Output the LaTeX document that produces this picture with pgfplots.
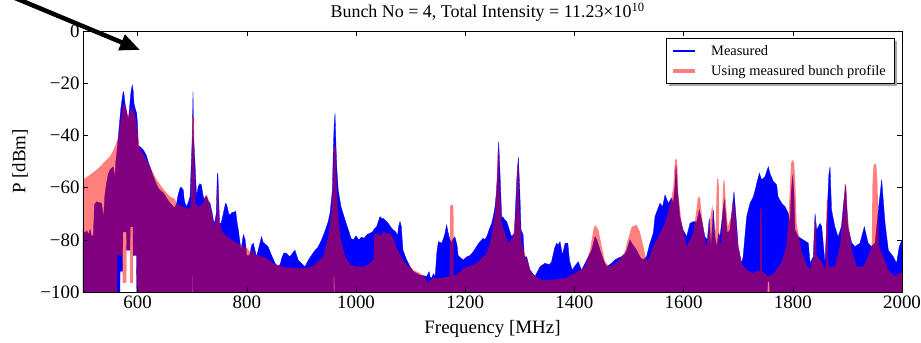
\documentclass[border=0pt]{standalone}
\usepackage{fontspec}
\setmainfont{Liberation Serif}
\usepackage{pgfplots}
\pgfplotsset{compat=1.18}
\usetikzlibrary{arrows.meta}

\begin{document}
\begin{tikzpicture}
\begin{axis}[
  scale only axis, width=819bp, height=261bp,
  xmin=500, xmax=2000, ymin=-100, ymax=0,
  xtick={600,800,1000,1200,1400,1600,1800,2000},
  xticklabels={600,800,1000,1200,1400,1600,1800,2000},
  ytick={-100,-80,-60,-40,-20,0},
  yticklabels={−100,−80,−60,−40,−20,0},
  tick align=inside, tick pos=both,
  major tick length=5bp,
  tick style={black, line width=0.6bp},
  ticklabel style={font=\fontsize{19}{21}\selectfont},
  /pgf/number format/assume math mode=true,
  axis line style={line width=0.8bp},
  axis on top,
  title={Bunch No = 4, Total Intensity = 11.23×10\textsuperscript{10}},
  title style={font=\fontsize{18}{20}\selectfont, at={(axis description cs:0.494,1.027)}, anchor=base},
  xlabel={Frequency [MHz]},
  ylabel={P [dBm]},
  label style={font=\fontsize{19}{21}\selectfont},
  xlabel style={at={(axis description cs:0.5,-0.142)}, anchor=center},
  ylabel style={at={(axis description cs:-0.0769,0.5)}, anchor=center},
]
% Measured (blue)
\addplot[fill=blue, draw=blue, line width=0.3bp] coordinates {
(500,-76) (503,-77.5) (507,-76.5) (510,-78) (513,-76) (516,-79) (519,-78) (521,-66.5) (525,-65.4) (530,-65.8)
(534,-66) (536,-69) (537.5,-72) (540,-63) (543,-58.4) (546,-55) (549.5,-53.2) (553,-52.5) (555.5,-52) (557,-54)
(558.6,-56) (560,-50) (561.7,-47) (564.7,-40.5) (567,-35) (569,-30.3) (571,-27) (573,-24) (573.9,-23.2) (575,-24)
(576.9,-27.7) (580,-31) (583,-34) (585,-30) (586,-27.7) (588,-23) (590.3,-20.7) (592,-23) (593.4,-27.7) (596,-30)
(598.3,-31.5) (600,-36) (601.3,-44.3) (604.4,-44.3) (607,-44.8) (610.5,-45.6) (613,-46.5) (616.6,-48) (620,-50.5)
(622.7,-52) (626,-54) (628.8,-55.8) (632,-57.5) (634.9,-59) (638,-60.2) (641,-61) (644,-61.5) (647,-62) (650,-62.8)
(653,-64) (656,-65) (660,-66) (665.4,-67.3) (668,-67.7) (671.5,-66) (674,-63) (677.6,-60.3) (680,-59.8) (683.8,-61)
(685,-64) (686.8,-66) (689.9,-67.3) (693,-65.5) (696,-63.5) (698.5,-50) (700.2,-40) (701.5,-23.2) (702.5,-40) (705,-50)
(708,-63.5) (711,-59.6) (714,-58.5) (717,-59) (719,-62) (721.6,-64.7) (724,-63.5) (726.5,-63.5) (729,-65) (732.6,-66)
(736,-69) (738.7,-72.4) (741,-73.7) (744,-70) (746,-55) (747,-54.5) (748,-60) (750,-73.5) (753,-73.7) (757,-69.9)
(761,-66) (763,-66.5) (767,-70) (769.5,-70.5) (773,-69.5) (776,-69.5) (779.7,-69) (782,-73) (784.5,-76.2) (789.5,-84)
(793.7,-78) (797,-80) (800,-86) (805,-86) (809,-82) (812,-81.3) (815,-84) (818,-86.5) (822,-83) (827,-78.8)
(830,-81) (833,-81.5) (839,-82.6) (845,-85.8) (851.7,-89) (856,-90) (861,-89.5) (864,-87) (868,-85) (873,-85.2)
(879,-86.5) (884,-85) (888.3,-84) (894,-87.7) (900,-89) (906.6,-90.3) (913,-87.7) (919,-85.8) (925,-84) (930,-83)
(937,-80) (944,-76.2) (949,-73) (952.4,-69.9) (956.7,-61) (958.5,-45) (960,-36) (961.6,-31.5) (963.5,-45) (965,-53)
(967.5,-61) (972.5,-67.3) (980,-72.4) (986,-76.2) (991,-79.5) (995,-80) (1000,-78.5) (1005,-80) (1010,-79) (1015,-79.4)
(1020,-78) (1025.6,-77.5) (1030,-77) (1033,-76) (1037.8,-75) (1041,-73) (1044,-71.1) (1048,-72) (1050,-71.8) (1056,-73)
(1060,-74) (1065,-75.5) (1068,-76.2) (1073,-77) (1076,-78.5) (1078,-75) (1080.6,-73) (1083,-75) (1086,-84) (1092.8,-87.7)
(1099,-90.3) (1105,-92.2) (1117,-93.5) (1129.4,-94) (1132,-93) (1134,-92.2) (1136,-94.5) (1138,-94.7) (1142,-93) (1145,-94)
(1148,-85) (1150.8,-80.7) (1157,-81.3) (1161,-79) (1163,-77.5) (1166,-74.3) (1169,-77.5) (1172,-80) (1175,-81) (1177,-80)
(1181,-78.8) (1185,-82) (1187,-86) (1192,-87) (1196.6,-87.7) (1203,-86.5) (1209,-86) (1215,-84.5) (1221,-82.5) (1227,-80.7)
(1233,-79.4) (1236,-80) (1240,-78.5) (1244,-76) (1248.5,-73.7) (1252,-70.5) (1254.6,-67.3) (1257,-62) (1259.5,-53.2) (1261.3,-42.4)
(1263.5,-53) (1266.8,-71.1) (1270,-71.5) (1273,-72.5) (1276,-73) (1279,-75) (1285,-78.8) (1290,-77.5) (1292,-68) (1295,-55)
(1297.4,-48.4) (1299.8,-60) (1302.3,-76.2) (1306,-78) (1308.3,-86.5) (1312.6,-86.5) (1318.7,-91.6) (1328,-94) (1337,-90.3) (1346,-89)
(1354,-89.5) (1358,-88.5) (1364,-83) (1367.6,-81.3) (1370,-82) (1373.7,-80.7) (1378,-85.8) (1383,-81.3) (1388,-81.3) (1391,-88)
(1396,-91.6) (1401,-90) (1407.2,-88.4) (1413,-91.6) (1419.5,-89) (1425.5,-86.5) (1431.6,-84) (1437.8,-78.8) (1441,-80) (1447,-84)
(1453,-87.7) (1459,-90.3) (1468,-89) (1474,-87.7) (1480,-87) (1486,-86.5) (1492,-85.5) (1496,-84) (1501.8,-80) (1505,-81.3)
(1514,-84) (1520,-86.5) (1526,-87.7) (1532,-86.5) (1538.4,-81.3) (1544.5,-77.5) (1547.6,-71.1) (1552,-68.6) (1556.8,-66) (1561.6,-67.3)
(1565.9,-62.8) (1572,-66) (1578,-64) (1581,-66) (1584,-60) (1586,-51.3) (1588.5,-60) (1593,-71.1) (1599,-76.2) (1605.6,-78.8)
(1611.7,-73.7) (1618,-73) (1624,-73) (1628.8,-68.6) (1633,-72.4) (1639,-78.8) (1643.5,-80) (1647,-71.8) (1650,-82.6) (1654.5,-68.6)
(1657.5,-79) (1661,-82.6) (1664,-77.5) (1666.6,-78.8) (1674.6,-64.7) (1680,-77.5) (1685,-76.2) (1692.3,-61.5) (1696,-71.1) (1700,-82.6)
(1706.3,-89) (1709,-86.5) (1715.5,-71.1) (1721.6,-66) (1727.7,-63.5) (1731,-61) (1733.8,-58.5) (1738.7,-54.5) (1743,-57) (1749,-55.8)
(1755.2,-52) (1758,-54.5) (1764,-57.5) (1770.5,-59) (1773,-63.5) (1779.6,-66) (1785.7,-67.3) (1791.9,-69.9) (1795,-73.7) (1797,-62)
(1799.8,-55.2) (1802,-62) (1804,-76.2) (1810,-78.8) (1819,-80) (1828.5,-81.3) (1831.5,-89) (1837.5,-86.5) (1840.7,-69.9) (1843.7,-76.2)
(1850,-73.7) (1853,-75) (1859,-89) (1864,-64.7) (1866,-55) (1868.2,-52) (1871,-68.6) (1877,-75) (1883,-78.8) (1889,-75)
(1893,-66) (1896.9,-59) (1901,-75) (1908,-81.3) (1914,-82.6) (1923,-81.3) (1931,-75) (1938,-81.3) (1944,-82.6) (1950.6,-81.3)
(1958,-66) (1962.8,-57) (1969,-73.7) (1975,-84) (1984,-86.5) (1990,-89) (1995,-82.6) (2000,-80)
(2000,-100) (1757.5,-100) (1757,-96) (1754,-96) (1753.5,-100) (961,-100) (960.8,-94) (959.2,-94) (959,-100)
(701.5,-100) (701.3,-93.5) (700,-93.5) (699.8,-100) (598.5,-100) (598,-86) (592,-86) (591.5,-75) (586.5,-75)
(586,-84) (580,-84) (579.5,-77) (573,-77) (572.5,-92) (568,-92) (567.5,-100) (500,-100)
};
% Model (red, translucent)
\addplot[fill=red, fill opacity=0.5, draw=none] coordinates {
(500,-57) (510,-55.5) (520,-54) (531,-52) (540,-50) (549.5,-48) (555,-46) (560,-43.5) (565,-40.5) (568,-36)
(571,-31.5) (574,-27.7) (577,-28.5) (580,-31) (583,-33) (586,-31) (589,-29.5) (592,-30) (596,-33) (600,-39)
(604.4,-45.5) (610,-47) (616.6,-49.5) (625,-53) (635,-57) (645,-60) (653,-62) (660,-63.5) (665,-64) (668.5,-64.5)
(672,-66.5) (680,-67) (690,-68) (697,-68) (699,-50) (700,-33) (703,-33) (704,-50) (706,-66) (712,-67.5)
(720,-66) (726.5,-62.5) (730,-64.5) (735,-69) (741,-75) (745,-70) (746,-60) (748,-60) (749,-72) (755,-77)
(765,-79) (780,-81) (793,-82.5) (800,-83) (805,-84.5) (812,-84) (815,-86) (825,-86) (835,-87) (851.7,-89.5)
(870,-90.5) (900,-91) (920,-90.3) (940,-86.5) (948,-80) (952,-75) (955,-69) (958,-58) (959.5,-44.3) (963,-44.3)
(964.5,-58) (966.5,-69) (971,-78.8) (980,-86.5) (990,-89.6) (1000,-90.3) (1015,-90.3) (1025,-89) (1032,-87.7) (1034,-76.2)
(1036,-78) (1040,-77.5) (1044,-78.5) (1050,-77) (1056,-77.5) (1062,-77.5) (1068,-79) (1074,-83) (1086,-87.7) (1095,-90)
(1105,-91.6) (1115,-92.5) (1125,-94) (1131,-96.7) (1140,-94.7) (1155,-94.7) (1172,-94) (1172.5,-67.5) (1173.5,-66.7) (1177.5,-66.7) (1178.5,-67.5) (1179,-94)
(1190,-92.5) (1196.6,-91) (1210,-90) (1221,-89) (1233,-86.5) (1240,-85) (1248.5,-78.8) (1254.6,-69.9) (1257.7,-59.6) (1259,-46.5) (1260,-45.6) (1261,-46.5)
(1263,-59.6) (1266.8,-73.5) (1279,-81.3) (1288,-78.8) (1293,-68) (1295,-51.5) (1296,-50.7) (1297.5,-51.5) (1299.2,-68) (1303.5,-81.3) (1312.6,-87.7) (1321.8,-92.8)
(1328,-94) (1340,-95.4) (1358.4,-95.4) (1383,-94.7) (1401,-92.8) (1419.5,-90.3) (1428.6,-84) (1434.7,-76.2) (1437.8,-74.3) (1444,-76.2)
(1450,-82.6) (1456,-88.4) (1465,-90.3) (1480,-88.4) (1492.7,-84.5) (1496,-81.3) (1505,-75) (1514,-74.3) (1520,-77) (1526.3,-82.6)
(1532.3,-88.4) (1538.4,-86.5) (1544.5,-82.6) (1556.8,-77.5) (1565,-74) (1571,-70) (1576,-66) (1581,-60) (1583,-53) (1584.5,-49.5) (1586,-48.8)
(1587.5,-49.5) (1589,-53) (1590.2,-62) (1596.3,-73.5) (1605.6,-82.6) (1617.8,-77.5) (1623.9,-68) (1626,-64) (1628.8,-63.5) (1630.5,-64.5) (1633,-70)
(1641,-82.6) (1645,-78.8) (1650.8,-69) (1652.6,-66.7) (1654.3,-70) (1655.7,-78.8) (1659,-75) (1660.5,-60) (1661.5,-56.8) (1663.5,-56.8) (1664.5,-60)
(1665.5,-81.3) (1669,-81.3) (1671.5,-63) (1673,-57.3) (1675,-57.3) (1676.5,-63) (1681,-75) (1687,-71) (1690,-65.8) (1692,-65.8) (1694,-68.6) (1700,-82.6)
(1706.3,-89) (1715.5,-91.6) (1727.7,-92.8) (1737,-91.6) (1739.5,-93) (1740,-68) (1743,-68) (1743.5,-92) (1755,-94) (1765,-93)
(1780,-88.4) (1788,-82.5) (1792,-72.4) (1795,-58) (1797,-50.5) (1799.8,-49.4) (1802.5,-50.5) (1804.5,-58) (1807,-73.7) (1816,-84.5) (1825.5,-89.6) (1831.5,-91.6)
(1835,-88.4) (1838,-87) (1840.5,-72.4) (1842.5,-72.4) (1843.5,-86) (1853,-88.4) (1860,-91.6) (1862,-64.7) (1864,-64.7) (1865,-90.3) (1877,-90.3) (1886.4,-82.6)
(1892.5,-68.6) (1895,-58.8) (1897.5,-58.8) (1900,-69.9) (1907.8,-83.9) (1917,-90.3) (1929,-90.3) (1938,-86.5) (1944.5,-82.6) (1946,-58) (1948,-51.5) (1950.6,-50.7)
(1953,-51.5) (1955,-58) (1958,-82.6) (1966,-86.5) (1975,-91.6) (1987,-94) (1995,-92.8) (2000,-92.8)
(2000,-100) (598.5,-100) (598,-86) (592,-86) (591.5,-96.5) (586.5,-96.5) (586,-84) (580,-84) (579.5,-96.5)
(572.5,-96.5) (572,-86) (563,-86) (562.5,-100) (500,-100)
};
\coordinate (arrS) at (axis cs:348,15.06);
\coordinate (arrE) at (axis cs:604.4,-7.28);
\end{axis}
% legend, drawn by hand
\coordinate (L) at ([xshift=583bp,yshift=-7bp]current axis.north west);
\fill[gray!70] ([shift={(3bp,-3bp)}]L) rectangle ++(228bp,-45bp);
\draw[fill=white, line width=0.8bp] (L) rectangle ++(228bp,-45bp);
\draw[blue, line width=1.2bp] ([shift={(7bp,-13bp)}]L) -- ++(22bp,0bp);
\node[anchor=base west, inner sep=0pt, font=\fontsize{14.5}{16}\selectfont] at ([shift={(45bp,-17.8bp)}]L) {Measured};
\draw[red, draw opacity=0.5, line width=4bp] ([shift={(7bp,-33bp)}]L) -- ++(22bp,0bp);
\node[anchor=base west, inner sep=0pt, font=\fontsize{14.5}{16}\selectfont] at ([shift={(45bp,-37.8bp)}]L) {Using measured bunch profile};
\pgfresetboundingbox
\path ([xshift=-83bp,yshift=-51bp]current axis.south west) rectangle ([xshift=19bp,yshift=31bp]current axis.north east);
\draw[overlay, line width=4.5bp, -{Triangle[length=20bp,width=16bp]}] (arrS) -- (arrE);
\end{tikzpicture}
\end{document}
